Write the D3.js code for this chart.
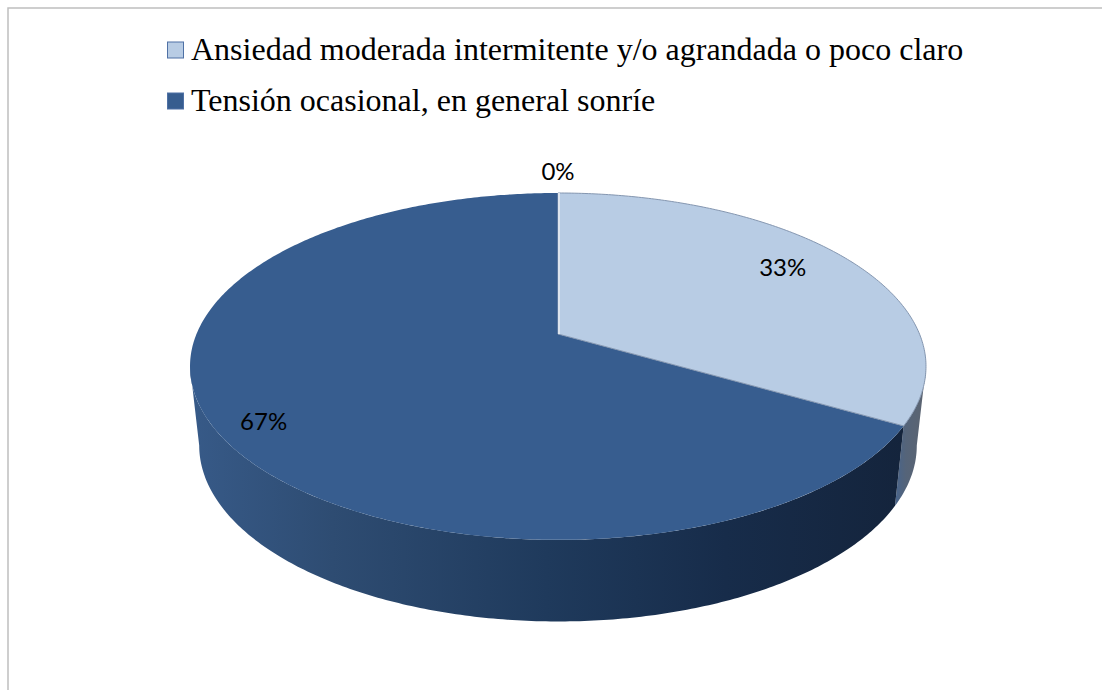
<!DOCTYPE html>
<html>
<head>
<meta charset="utf-8">
<script src="https://cdn.jsdelivr.net/npm/d3@7"></script>
<style>
  html, body { margin: 0; padding: 0; background: #fff; }
  svg { display: block; }
</style>
</head>
<body>
<div class="chart"></div>
<script>
// data
let categories = ['Ansiedad moderada intermitente y/o agrandada o poco claro', 'Tensión ocasional, en general sonríe']
let values = [33.3, 66.7, 0] // the third slice has no legend entry, only its 0% label
let labels = ['33%', '67%', '0%']

let width = 1102
let height = 690

// layout of the tilted disc, fitted to the reference
let disc = { cx: 558, apexY: 334, a: 361.5, b: 104.9, k: -0.187 }
let wall = { sx: 0.975, sy: 1.015, ellipseY: 366, bottomY: 445 }
let topColors = ['#b8cce4', '#375d8f', '#375d8f']
let wallStops = [
  [[0, '#47648c'], [0.35, '#556479'], [1, '#5c6470']],
  [[0, '#375a88'], [0.2, '#2e4c72'], [0.5, '#1f3a5c'], [0.75, '#172c4a'], [1, '#14243c']],
  [[0, '#14243c'], [1, '#14243c']]
]
let labelSpots = [{ r: 0.77, dx: 0, dy: -7 }, { r: 0.87, dx: 2, dy: 7 }, { r: 1.19, dx: 0, dy: -1 }]

let svg = d3.select('.chart')
  .append('svg')
  .attr('width', width)
  .attr('height', height)

drawFrame()
drawPie()
drawLegend()

// circle to tilted disc (perspective), angle measured clockwise from the top
function project (r, angle) {
  let x = r * Math.sin(angle)
  let y = -r * Math.cos(angle)
  let w = 1 + disc.k * y
  return [disc.cx + disc.a * x / w, (disc.apexY + disc.b * y) / w]
}

function projectBottom (angle) {
  let p = project(1, angle)
  return [
    disc.cx + (p[0] - disc.cx) * wall.sx,
    wall.bottomY + (p[1] - wall.ellipseY) * wall.sy
  ]
}

function sampleAngles (a0, a1) {
  let n = Math.max(2, Math.ceil((a1 - a0) * 90))
  return d3.range(n + 1).map(i => a0 + (a1 - a0) * i / n)
}

function drawFrame () {
  svg.append('path')
    .attr('d', d3.line()([[8, height], [8, 8], [width, 8]]))
    .attr('fill', 'none')
    .attr('stroke', '#bfbfbf')
    .attr('stroke-width', 1.5)
}

function drawPie () {
  let line = d3.line()
  let slices = d3.pie().sort(null)(values)
  let firstVisible = Math.acos(disc.k)
  let lastVisible = 2 * Math.PI - firstVisible
  let defs = svg.append('defs')

  // side walls first, the top face goes over them
  slices.forEach((d, i) => {
    let a0 = Math.max(d.startAngle, firstVisible)
    let a1 = Math.min(d.endAngle, lastVisible)
    if (a1 <= a0) return
    let angles = sampleAngles(a0, a1)
    let pts = angles.map(a => project(1, a)).concat(angles.slice().reverse().map(projectBottom))
    let xs = d3.extent(pts, p => p[0])
    // the gradient runs left to right on screen whichever way the angles go
    let grad = defs.append('linearGradient')
      .attr('id', 'wall' + i)
      .attr('gradientUnits', 'userSpaceOnUse')
      .attr('x1', xs[0])
      .attr('x2', xs[1])
      .attr('y1', 0)
      .attr('y2', 0)
    grad.selectAll('stop')
      .data(wallStops[i])
      .enter()
      .append('stop')
      .attr('offset', s => s[0])
      .attr('stop-color', s => s[1])
    svg.append('path')
      .attr('class', 'slice-wall')
      .attr('d', line(pts) + 'Z')
      .attr('fill', 'url(#wall' + i + ')')
  })

  // the dark slice first so the light one keeps its outline
  let order = slices.map((d, i) => i).reverse()
  order.forEach(i => {
    let d = slices[i]
    if (d.endAngle <= d.startAngle) return
    let pts = [project(0, 0)].concat(sampleAngles(d.startAngle, d.endAngle).map(a => project(1, a)))
    svg.append('path')
      .attr('class', 'slice-top')
      .attr('d', line(pts) + 'Z')
      .attr('fill', topColors[i])
      .attr('stroke', i === 0 ? '#8496b0' : 'none')
      .attr('stroke-width', 1)
  })

  // the empty slice shows up as a pale seam at twelve o'clock
  svg.append('path')
    .attr('class', 'slice-seam')
    .attr('transform', 'translate(1,0)')
    .attr('d', line([project(0, 0), project(1, 0)]))
    .attr('stroke', '#dde4ee')
    .attr('stroke-width', 2)

  svg.selectAll('.slice-label')
    .data(slices)
    .enter()
    .append('text')
    .attr('class', 'slice-label')
    .attr('x', (d, i) => project(labelSpots[i].r, (d.startAngle + d.endAngle) / 2)[0] + labelSpots[i].dx)
    .attr('y', (d, i) => project(labelSpots[i].r, (d.startAngle + d.endAngle) / 2)[1] + labelSpots[i].dy)
    .attr('text-anchor', 'middle')
    .attr('dominant-baseline', 'central')
    .attr('font-family', 'Lato, sans-serif')
    .attr('font-size', '24px')
    .attr('fill', '#000')
    .text((d, i) => labels[i])
}

function drawLegend () {
  let rowY = d3.scalePoint().domain(categories).range([50, 101])
  let item = svg.selectAll('.legend-item')
    .data(categories)
    .enter()
    .append('g')
    .attr('class', 'legend-item')
    .attr('transform', d => 'translate(167,' + rowY(d) + ')')
  item.append('rect')
    .attr('x', 0.5)
    .attr('y', -8)
    .attr('width', 16)
    .attr('height', 16)
    .attr('fill', (d, i) => topColors[i])
    .attr('stroke', '#4f71a5')
    .attr('stroke-width', 1)
  item.append('text')
    .attr('x', 24)
    .attr('y', 10)
    .attr('font-family', '"Liberation Serif", serif')
    .attr('font-size', '32px')
    .attr('fill', '#000')
    .text(d => d)
}
</script>
</body>
</html>
